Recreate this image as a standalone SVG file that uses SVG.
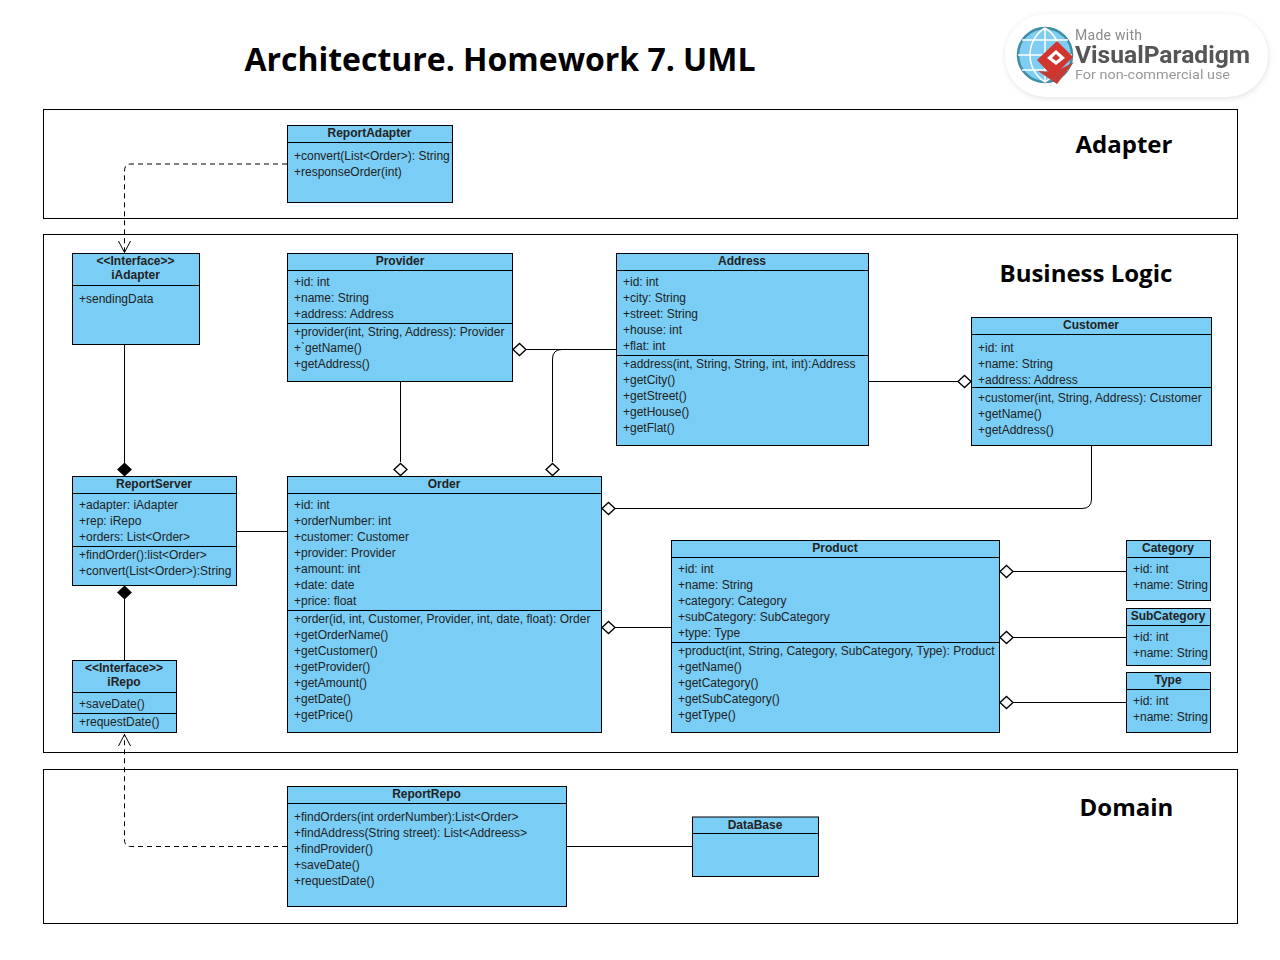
<svg xmlns="http://www.w3.org/2000/svg" width="1280" height="960" viewBox="0 0 1280 960">
<style>
text{font-family:"Liberation Sans",Arial,sans-serif;font-size:12px;fill:#222}
.h{font-weight:bold;text-anchor:middle}
.box{fill:#7acdf5;stroke:#000;stroke-width:1}
.sep{stroke:#000;stroke-width:1;fill:none}
.pkg{fill:#fff;stroke:#000;stroke-width:1}
.pt{font-family:"Open Sans","Noto Sans",sans-serif;font-weight:bold;fill:#000}
.c{fill:none;stroke:#000;stroke-width:1}
.d{stroke-dasharray:5 4}
.o{fill:#fff;stroke:#000;stroke-width:1.3}
.f{fill:#000;stroke:#000;stroke-width:1.3}
</style>
<defs>
<filter id="sh" x="-10%" y="-20%" width="120%" height="140%"><feGaussianBlur stdDeviation="3"/></filter>
<filter id="sf" x="-5%" y="-20%" width="110%" height="140%"><feGaussianBlur stdDeviation="0.6"/></filter>
<polygon id="dia" points="-6.500,0 0,-6 6.500,0 0,6"/>
</defs>
<rect width="1280" height="960" fill="#fff"/>
<text class="pt" x="244.500" y="71" style="font-size:32px" textLength="511">Architecture. Homework 7. UML</text>
<g id="watermark">
<rect x="1006" y="16" width="262" height="82" rx="41" fill="#ddd" filter="url(#sh)"/>
<rect x="1005" y="14" width="263" height="83" rx="41" fill="#fff"/>
<g filter="url(#sf)">
<circle cx="1045" cy="55" r="27" fill="#7fcdf2" stroke="#3f8ea3" stroke-width="2.500"/>
<path d="M1045 28V82M1018 55H1072M1022 40H1068M1022 70H1068M1045 28C1025 40 1025 70 1045 82M1045 28C1065 40 1065 70 1045 82" fill="none" stroke="#fff" stroke-width="1.500"/>
<polygon points="1055,72 1074,62 1057,84 1038,71" fill="#c23a36"/>
<polygon points="1057,41 1073,57 1053,77 1037,60" fill="#d1352e"/>
<polygon points="1056,50 1065,58 1056,65 1047,58" fill="#fff"/>
<polygon points="1056,54 1060,58 1056,61 1052,58" fill="#d1352e"/>
<text x="1075" y="40" style="font-family:Roboto,sans-serif;font-size:14px;fill:#8a8a8a" textLength="67">Made with</text>
<text x="1075" y="63" style="font-family:Roboto,sans-serif;font-size:24px;font-weight:bold;fill:#555" textLength="175" lengthAdjust="spacingAndGlyphs">VisualParadigm</text>
<text x="1075" y="79" style="font-family:Roboto,sans-serif;font-size:13px;fill:#999" textLength="155" lengthAdjust="spacingAndGlyphs">For non-commercial use</text>
</g>
</g>
<g id="pkg-adapter"><rect class="pkg" x="43.500" y="109.500" width="1194" height="109"/><text class="pt" x="1075.500" y="153" style="font-size:24px">Adapter</text></g>
<g id="pkg-business"><rect class="pkg" x="43.500" y="234.500" width="1194" height="518"/><text class="pt" x="999.500" y="282" style="font-size:24px">Business Logic</text></g>
<g id="pkg-domain"><rect class="pkg" x="43.500" y="769.500" width="1194" height="154"/><text class="pt" x="1079.500" y="816" style="font-size:24px">Domain</text></g>

<g id="connectors">
<path class="c d" d="M287 164H131Q124.500 164 124.500 171V253"/>
<path class="c" d="M118.500 241L124.500 252.500L130.500 241" stroke-width="1.200"/>
<path class="c" d="M124.500 345V470"/>
<use href="#dia" class="f" x="124.500" y="469.500"/>
<path class="c" d="M124.500 593V660"/>
<use href="#dia" class="f" x="124.500" y="592.500"/>
<path class="c d" d="M287 846.500H131Q124.500 846.500 124.500 840V734"/>
<path class="c" d="M118.500 746L124.500 734.500L130.500 746" stroke-width="1.200"/>
<path class="c" d="M237 531.500H287"/>
<path class="c" d="M400.500 382V462"/>
<use href="#dia" class="o" x="400.500" y="469.500"/>
<path class="c" d="M526 349.500H616"/>
<use href="#dia" class="o" x="519.500" y="349.500"/>
<path class="c" d="M616 349.500H562Q552.500 349.500 552.500 359V462"/>
<use href="#dia" class="o" x="552.500" y="469.500"/>
<path class="c" d="M869 381.500H958"/>
<use href="#dia" class="o" x="964.500" y="381.500"/>
<path class="c" d="M1091.500 446V499Q1091.500 508.500 1082 508.500H615"/>
<use href="#dia" class="o" x="608.500" y="508.500"/>
<path class="c" d="M615 627.500H671"/>
<use href="#dia" class="o" x="608.500" y="627.500"/>
<path class="c" d="M1013 571.500H1127"/>
<use href="#dia" class="o" x="1006.500" y="571.500"/>
<path class="c" d="M1013 637.500H1127"/>
<use href="#dia" class="o" x="1006.500" y="637.500"/>
<path class="c" d="M1013 702.500H1127"/>
<use href="#dia" class="o" x="1006.500" y="702.500"/>
<path class="c" d="M567 846.500H692"/>
</g>

<g id="ReportAdapter"><rect class="box" x="287.500" y="125.500" width="165" height="77"/><path class="sep" d="M287.500 142.500H452.500"/>
<text class="h" x="369.500" y="137">ReportAdapter</text>
<text x="294" y="160">+convert(List&lt;Order&gt;): String</text><text x="294" y="176">+responseOrder(int)</text></g>

<g id="iAdapter"><rect class="box" x="72.500" y="253.500" width="127" height="91"/><path class="sep" d="M72.500 285.500H199.500"/>
<text class="h" x="135.500" y="265">&lt;&lt;Interface&gt;&gt;</text><text class="h" x="135.500" y="279">iAdapter</text>
<text x="79" y="303">+sendingData</text></g>

<g id="Provider"><rect class="box" x="287.500" y="253.500" width="225" height="128"/><path class="sep" d="M287.500 270.500H512.500M287.500 323.500H512.500"/>
<text class="h" x="400" y="265">Provider</text>
<text x="294" y="286">+id: int</text><text x="294" y="302">+name: String</text><text x="294" y="318">+address: Address</text>
<text x="294" y="336">+provider(int, String, Address): Provider</text><text x="294" y="352">+`getName()</text><text x="294" y="368">+getAddress()</text></g>

<g id="Address"><rect class="box" x="616.500" y="253.500" width="252" height="192"/><path class="sep" d="M616.500 270.500H868.500M616.500 355.500H868.500"/>
<text class="h" x="742" y="265">Address</text>
<text x="623" y="286">+id: int</text><text x="623" y="302">+city: String</text><text x="623" y="318">+street: String</text><text x="623" y="334">+house: int</text><text x="623" y="350">+flat: int</text>
<text x="623" y="368">+address(int, String, String, int, int):Address</text><text x="623" y="384">+getCity()</text><text x="623" y="400">+getStreet()</text><text x="623" y="416">+getHouse()</text><text x="623" y="432">+getFlat()</text></g>

<g id="Customer"><rect class="box" x="971.500" y="317.500" width="240" height="128"/><path class="sep" d="M971.500 334.500H1211.500M971.500 387.500H1211.500"/>
<text class="h" x="1091" y="329">Customer</text>
<text x="978" y="352">+id: int</text><text x="978" y="368">+name: String</text><text x="978" y="384">+address: Address</text>
<text x="978" y="402">+customer(int, String, Address): Customer</text><text x="978" y="418">+getName()</text><text x="978" y="434">+getAddress()</text></g>

<g id="ReportServer"><rect class="box" x="72.500" y="476.500" width="164" height="109"/><path class="sep" d="M72.500 493.500H236.500M72.500 546.500H236.500"/>
<text class="h" x="154" y="488">ReportServer</text>
<text x="79" y="509">+adapter: iAdapter</text><text x="79" y="525">+rep: iRepo</text><text x="79" y="541">+orders: List&lt;Order&gt;</text>
<text x="79" y="559">+findOrder():list&lt;Order&gt;</text><text x="79" y="575">+convert(List&lt;Order&gt;):String</text></g>

<g id="Order"><rect class="box" x="287.500" y="476.500" width="314" height="256"/><path class="sep" d="M287.500 493.500H601.500M287.500 610.500H601.500"/>
<text class="h" x="444" y="488">Order</text>
<text x="294" y="509">+id: int</text><text x="294" y="525">+orderNumber: int</text><text x="294" y="541">+customer: Customer</text><text x="294" y="557">+provider: Provider</text><text x="294" y="573">+amount: int</text><text x="294" y="589">+date: date</text><text x="294" y="605">+price: float</text>
<text x="294" y="623">+order(id, int, Customer, Provider, int, date, float): Order</text><text x="294" y="639">+getOrderName()</text><text x="294" y="655">+getCustomer()</text><text x="294" y="671">+getProvider()</text><text x="294" y="687">+getAmount()</text><text x="294" y="703">+getDate()</text><text x="294" y="719">+getPrice()</text></g>

<g id="Product"><rect class="box" x="671.500" y="540.500" width="328" height="192"/><path class="sep" d="M671.500 557.500H999.500M671.500 642.500H999.500"/>
<text class="h" x="835" y="552">Product</text>
<text x="678" y="573">+id: int</text><text x="678" y="589">+name: String</text><text x="678" y="605">+category: Category</text><text x="678" y="621">+subCategory: SubCategory</text><text x="678" y="637">+type: Type</text>
<text x="678" y="655">+product(int, String, Category, SubCategory, Type): Product</text><text x="678" y="671">+getName()</text><text x="678" y="687">+getCategory()</text><text x="678" y="703">+getSubCategory()</text><text x="678" y="719">+getType()</text></g>

<g id="Category"><rect class="box" x="1126.500" y="540.500" width="84" height="60"/><path class="sep" d="M1126.500 557.500H1210.500"/>
<text class="h" x="1168" y="552">Category</text><text x="1133" y="573">+id: int</text><text x="1133" y="589">+name: String</text></g>

<g id="SubCategory"><rect class="box" x="1126.500" y="608.500" width="84" height="57"/><path class="sep" d="M1126.500 625.500H1210.500"/>
<text class="h" x="1168" y="620">SubCategory</text><text x="1133" y="641">+id: int</text><text x="1133" y="657">+name: String</text></g>

<g id="Type"><rect class="box" x="1126.500" y="672.500" width="84" height="60"/><path class="sep" d="M1126.500 689.500H1210.500"/>
<text class="h" x="1168" y="684">Type</text><text x="1133" y="705">+id: int</text><text x="1133" y="721">+name: String</text></g>

<g id="iRepo"><rect class="box" x="72.500" y="660.500" width="104" height="72"/><path class="sep" d="M72.500 692.500H176.500M72.500 713.500H176.500"/>
<text class="h" x="124" y="672">&lt;&lt;Interface&gt;&gt;</text><text class="h" x="124" y="686">iRepo</text>
<text x="79" y="708">+saveDate()</text><text x="79" y="726">+requestDate()</text></g>

<g id="ReportRepo"><rect class="box" x="287.500" y="786.500" width="279" height="120"/><path class="sep" d="M287.500 803.500H566.500"/>
<text class="h" x="426.500" y="798">ReportRepo</text>
<text x="294" y="821">+findOrders(int orderNumber):List&lt;Order&gt;</text><text x="294" y="837">+findAddress(String street): List&lt;Addreess&gt;</text><text x="294" y="853">+findProvider()</text><text x="294" y="869">+saveDate()</text><text x="294" y="885">+requestDate()</text></g>

<g id="DataBase"><rect class="box" x="692.500" y="817" width="126" height="59.500"/><path class="sep" d="M692.500 833.500H818.500"/>
<text class="h" x="755" y="829">DataBase</text></g>
</svg>
